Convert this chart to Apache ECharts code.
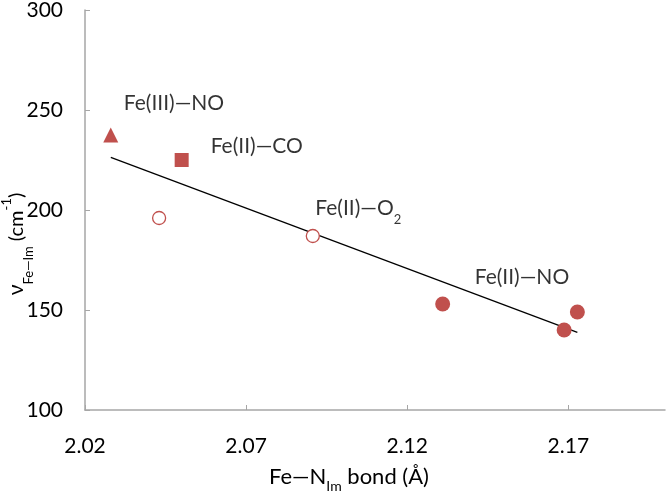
<!DOCTYPE html>
<html>
<head>
<meta charset="utf-8">
<script src="https://cdn.jsdelivr.net/npm/echarts@6/dist/echarts.min.js"></script>
<style>
  html, body { margin: 0; padding: 0; background: #fff; }
  #chart { width: 666px; height: 492px; }
</style>
</head>
<body>
<div id="chart"></div>
<script>
// bond length (Å) vs Fe-Im stretching frequency (cm-1)
const xTicks = [2.02, 2.07, 2.12, 2.17];
const yTicks = [100, 150, 200, 250, 300];

const feIIINO = [[2.028, 237.5]];
const feIICO = [[2.050, 225]];
const openPts = [[2.043, 196], [2.0907, 187]];
const feIINO = [[2.131, 153], [2.1687, 140], [2.1728, 149]];
const trend = [[2.028, 226.3], [2.1728, 138.8]];

const annoText = ['Fe(III)—NO', 'Fe(II)—CO', 'Fe(II)—O{s|2}', 'Fe(II)—NO'];
const annoX = [2.0476, 2.0733, 2.1048, 2.1556];
const annoY = [253.5, 232, 201, 166.3];

const RED = '#c0504d';
const FONT = 'Lato';

const chart = echarts.init(document.getElementById('chart'));
chart.setOption({
  animation: false,
  backgroundColor: '#fff',
  textStyle: { fontFamily: FONT },
  grid: { left: 85, right: 1, top: 10, bottom: 82, containLabel: false, outerBoundsMode: 'none' },
  xAxis: {
    type: 'value',
    min: 2.02,
    max: 2.2,
    interval: 0.05,
    name: 'Fe—N{s|Im} bond (Å)',
    nameLocation: 'middle',
    nameGap: 56,
    nameMoveOverlap: false,
    nameTextStyle: {
      fontFamily: FONT, fontSize: 22, color: '#000', padding: [0, 52, 0, 0],
      rich: { s: { fontFamily: FONT, fontSize: 14, verticalAlign: 'bottom', padding: [0, 0, -5, 0], color: '#000' } }
    },
    axisLine: { lineStyle: { color: '#a6a6a6', width: 1.5 } },
    axisTick: { inside: true, length: 5, customValues: xTicks, lineStyle: { color: '#a6a6a6' } },
    axisLabel: {
      customValues: xTicks, margin: 26, fontSize: 21, color: '#000',
      formatter: v => v.toFixed(2)
    },
    splitLine: { show: false }
  },
  yAxis: {
    type: 'value',
    min: 100,
    max: 300,
    interval: 50,
    name: '{v|ν}{s|Fe—Im} (cm{p|-1})',
    nameLocation: 'middle',
    nameRotate: 90,
    nameGap: 58,
    nameMoveOverlap: false,
    nameTextStyle: {
      fontFamily: FONT, fontSize: 20, color: '#000', padding: [0, 68, 0, 0],
      rich: {
        v: { fontFamily: FONT, fontSize: 21, color: '#000' },
        s: { fontFamily: FONT, fontSize: 13, color: '#000', verticalAlign: 'bottom', padding: [0, 0, -8, 0] },
        p: { fontFamily: FONT, fontSize: 13, color: '#000', verticalAlign: 'top', padding: [-6, 0, 0, 0] }
      }
    },
    axisLine: { show: true, lineStyle: { color: '#a6a6a6', width: 1.5 } },
    axisTick: { show: true, inside: true, length: 5, customValues: yTicks, lineStyle: { color: '#a6a6a6' } },
    axisLabel: { customValues: yTicks, margin: 22, fontSize: 21, color: '#000' },
    splitLine: { show: false }
  },
  series: [
    {
      type: 'line',
      data: trend,
      symbol: 'none',
      lineStyle: { color: '#000', width: 1.3 },
      z: 1
    },
    {
      type: 'scatter',
      data: feIIINO,
      symbol: 'triangle',
      symbolSize: 15,
      itemStyle: { color: RED, opacity: 1 },
      z: 3
    },
    {
      type: 'scatter',
      data: feIICO,
      symbol: 'rect',
      symbolSize: 14,
      itemStyle: { color: RED, opacity: 1 },
      z: 3
    },
    {
      type: 'scatter',
      data: openPts,
      symbol: 'circle',
      symbolSize: 13,
      itemStyle: { color: '#fff', borderColor: RED, borderWidth: 1.3, opacity: 1 },
      z: 3
    },
    {
      type: 'scatter',
      data: feIINO,
      symbol: 'circle',
      symbolSize: 15,
      itemStyle: { color: RED, opacity: 1 },
      z: 3
    },
    {
      type: 'scatter',
      data: annoX.map((x, i) => [x, annoY[i], annoText[i]]),
      symbolSize: 0,
      silent: true,
      label: {
        show: true,
        position: 'inside',
        formatter: p => p.data[2],
        fontFamily: FONT,
        fontSize: 21,
        color: '#000',
        rich: { s: { fontFamily: FONT, fontSize: 13, color: '#000', verticalAlign: 'bottom', padding: [0, 0, -8, 0] } }
      },
      z: 4
    }
  ]
});
</script>
</body>
</html>
